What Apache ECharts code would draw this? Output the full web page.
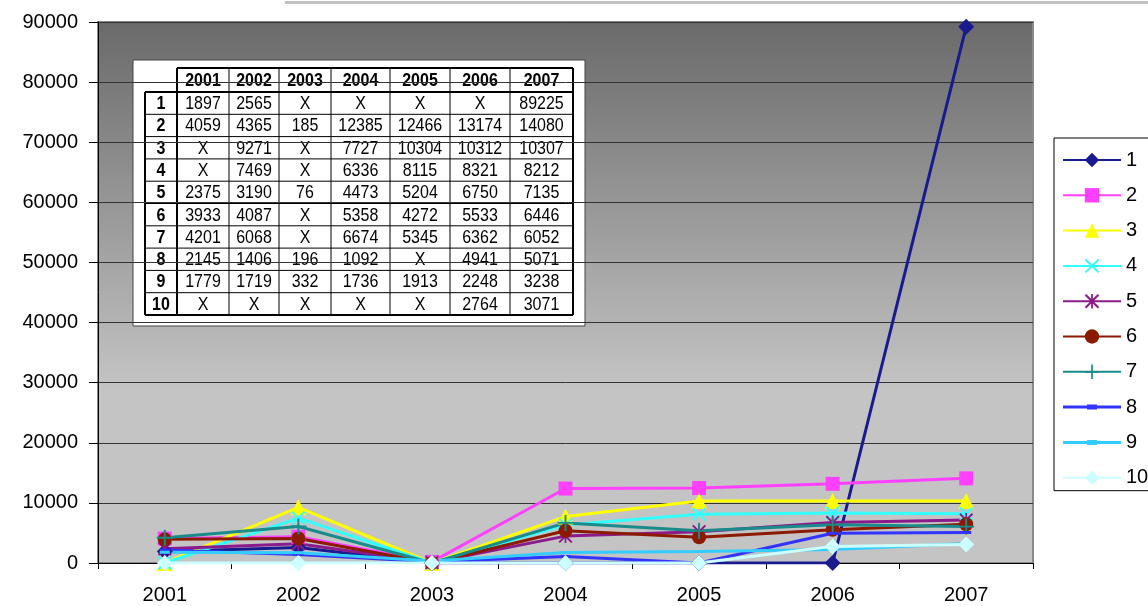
<!DOCTYPE html>
<html>
<head>
<meta charset="utf-8">
<script src="https://cdn.jsdelivr.net/npm/echarts@6/dist/echarts.min.js"></script>
<style>
	html, body { margin: 0; padding: 0; background: #fff; }
	#chart { width: 1148px; height: 606px; }
</style>
</head>
<body>
<div id="chart"></div>
<script>
var years = ['2001', '2002', '2003', '2004', '2005', '2006', '2007'];
var names = ['1', '2', '3', '4', '5', '6', '7', '8', '9', '10'];
// 'X' = no value in the table, plotted as 0
var s1 = [1897, 2565, 'X', 'X', 'X', 'X', 89225];
var s2 = [4059, 4365, 185, 12385, 12466, 13174, 14080];
var s3 = ['X', 9271, 'X', 7727, 10304, 10312, 10307];
var s4 = ['X', 7469, 'X', 6336, 8115, 8321, 8212];
var s5 = [2375, 3190, 76, 4473, 5204, 6750, 7135];
var s6 = [3933, 4087, 'X', 5358, 4272, 5533, 6446];
var s7 = [4201, 6068, 'X', 6674, 5345, 6362, 6052];
var s8 = [2145, 1406, 196, 1092, 'X', 4941, 5071];
var s9 = [1779, 1719, 332, 1736, 1913, 2248, 3238];
var s10 = ['X', 'X', 'X', 'X', 'X', 2764, 3071];
var yTicks = [0, 10000, 20000, 30000, 40000, 50000, 60000, 70000, 80000, 90000];

var rows = [s1, s2, s3, s4, s5, s6, s7, s8, s9, s10];
var colors = ['#1a1a8f', '#ff40ff', '#ffff00', '#33ffff', '#8b1a8b', '#8b1a00', '#1a8b8b', '#3333ff', '#33ccff', '#ccffff'];

var xPath = 'path://M0,1L1,0L5,4L9,0L10,1L6,5L10,9L9,10L5,6L1,10L0,9L4,5Z';
var plusPath = 'path://M4.4,0H5.6V4.4H10V5.6H5.6V10H4.4V5.6H0V4.4H4.4Z';
var starPath = 'path://M0,1L1,0L5,4L9,0L10,1L6,5L10,9L9,10L5,6L1,10L0,9L4,5Z M4.4,0H5.6V10H4.4Z';
var dashIcon = 'path://M0,0H0.01V0.01H0Z M0,5.5H58V8.5H0Z M24,4.5H34V9.5H24Z M57.99,13.99H58V14H57.99Z';
var symbols = ['diamond', 'rect', 'triangle', xPath, starPath, 'circle', plusPath, 'rect', 'rect', 'diamond'];
var sizes = [16, 14, 16, 14, 14, 14, 16, [10, 3], [10, 3], 16];

function buildSeries() {
	var list = [];
	for (var i = 0; i < rows.length; i++) {
		list.push({
			name: names[i],
			type: 'line',
			data: rows[i].map(function(v) { return v === 'X' ? 0 : v; }),
			symbol: symbols[i],
			symbolSize: sizes[i],
			showAllSymbol: true,
			lineStyle: { color: colors[i], width: 3 },
			itemStyle: { color: colors[i], borderWidth: 0 },
			animation: false
		});
	}
	return list;
}

function buildLegendData() {
	return names.map(function(n, i) {
		if (sizes[i] instanceof Array) {
			return { name: n, icon: dashIcon };
		}
		return { name: n };
	});
}

//数据表格
function buildTable() {
	var cols = [145, 177, 229, 279, 331, 390, 450, 510, 573];
	var top = 68, headH = 24, rowH = 22.3;
	var bottom = top + headH + rowH * rows.length;
	var els = [];
	els.push({ type: 'rect', shape: { x: 133, y: 60, width: 452, height: 266 }, style: { fill: '#fff', stroke: '#444', lineWidth: 1 } });
	function line(x1, y1, x2, y2, w) {
		els.push({ type: 'line', shape: { x1: x1, y1: y1, x2: x2, y2: y2 }, style: { stroke: '#000', lineWidth: w } });
	}
	function text(x, y, t, bold) {
		els.push({
			type: 'text', x: x, y: y, scaleY: 1.12,
			style: { text: t, fill: '#000', font: (bold ? 'bold 16px' : '16px') + ' "Liberation Sans", Arial, sans-serif', align: 'center', verticalAlign: 'middle' }
		});
	}
	// horizontal lines
	line(cols[1], top, cols[8], top, 2);
	line(cols[0], top + headH, cols[8], top + headH, 2);
	for (var r = 1; r < rows.length; r++) {
		line(cols[0], top + headH + r * rowH, cols[8], top + headH + r * rowH, 1);
	}
	line(cols[0], bottom, cols[8], bottom, 2);
	// vertical lines
	line(cols[0], top + headH, cols[0], bottom, 2);
	line(cols[1], top, cols[1], bottom, 2);
	for (var c = 2; c < 8; c++) {
		line(cols[c], top, cols[c], bottom, 1);
	}
	line(cols[8], top, cols[8], bottom, 2);
	for (var j = 0; j < years.length; j++) {
		text((cols[j + 1] + cols[j + 2]) / 2, top + headH / 2 + 1, years[j], true);
	}
	for (var i = 0; i < rows.length; i++) {
		var cy = top + headH + rowH * i + rowH / 2 + 1;
		text((cols[0] + cols[1]) / 2, cy, names[i], true);
		for (var k = 0; k < years.length; k++) {
			text((cols[k + 1] + cols[k + 2]) / 2, cy, String(rows[i][k]), false);
		}
	}
	return els;
}

function renderChart() {
	var option = {
		animation: false,
		textStyle: { fontFamily: '"Liberation Sans", Arial, sans-serif' },
		grid: {
			left: 98,
			right: 115,
			top: 22,
			bottom: 43,
			show: true,
			borderColor: '#8a8a8a',
			borderWidth: 2,
			backgroundColor: {
				type: 'linear', x: 0, y: 0, x2: 0, y2: 1,
				colorStops: [
					{ offset: 0, color: '#6a6a6a' },
					{ offset: 0.68, color: '#c4c4c4' },
					{ offset: 1, color: '#c4c4c4' }
				]
			}
		},
		legend: {
			orient: 'vertical',
			left: 1054,
			top: 138,
			itemWidth: 58,
			itemHeight: 18,
			itemGap: 15.3,
			padding: [12, 20, 3, 8],
			borderColor: '#000',
			borderWidth: 1,
			backgroundColor: '#fff',
			textStyle: { fontSize: 20, color: '#000' },
			data: buildLegendData()
		},
		xAxis: {
			type: 'category',
			data: years,
			boundaryGap: true,
			axisLine: { lineStyle: { color: '#000', width: 1 } },
			axisTick: { show: true, length: 6, lineStyle: { color: '#000' } },
			axisLabel: { color: '#000', fontSize: 20, margin: 22 },
			splitLine: { show: false }
		},
		yAxis: {
			type: 'value',
			min: yTicks[0],
			max: yTicks[yTicks.length - 1],
			interval: yTicks[1] - yTicks[0],
			axisLine: { show: true, lineStyle: { color: '#000', width: 1 } },
			axisTick: { show: true, length: 9, lineStyle: { color: '#000' } },
			axisLabel: { color: '#000', fontSize: 20, margin: 20, formatter: function(v) { return String(v); } },
			splitLine: { show: true, lineStyle: { color: '#333', width: 1 } }
		},
		graphic: [
			{ type: 'rect', shape: { x: 285, y: 1, width: 863, height: 3 }, style: { fill: '#c2c2c2' } },
			{ type: 'group', children: buildTable() }
		],
		series: buildSeries()
	};
	var chart = echarts.init(document.getElementById('chart'));
	chart.setOption(option);
}

renderChart();
</script>
</body>
</html>
